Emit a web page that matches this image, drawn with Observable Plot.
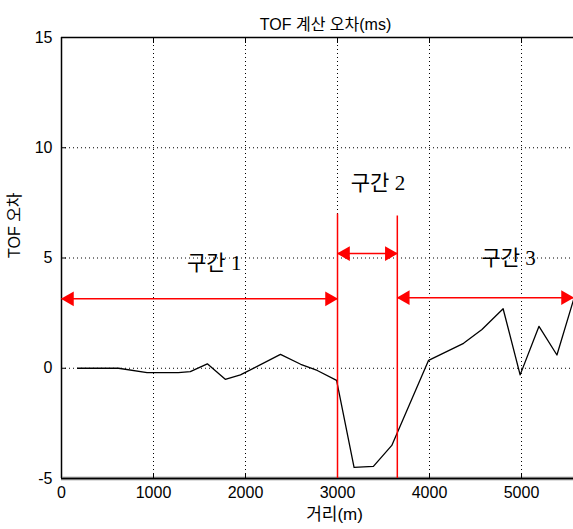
<!DOCTYPE html>
<html><head><meta charset="utf-8">
<script src="https://cdn.jsdelivr.net/npm/d3@7"></script>
<script src="https://cdn.jsdelivr.net/npm/@observablehq/plot@0.6"></script>
<style>body{margin:0;background:#fff} svg{display:block}</style>
</head><body><div id="chart"></div>
<script>
const distance = [175,620,930,1270,1400,1585,1780,1945,2380,2600,2780,2990,3180,3390,3590,3990,4370,4570,4800,4985,5190,5385,5565];
const tofError = [0,0,-0.2,-0.2,-0.15,0.2,-0.5,-0.3,0.63,0.18,-0.1,-0.55,-4.5,-4.45,-3.5,0.36,1.13,1.76,2.7,-0.3,1.9,0.6,3.1];
const xTicks = [0,1000,2000,3000,4000,5000];
const yTicks = [-5,0,5,10,15];
const boundaries = [3000,3650];
const boundaryTop = [7.0,6.9];
const segStart = [0,3000,3650];
const segEnd = [3000,3650,5565];
const segArrowY = [3.15,5.2,3.2];
const segLabels = ["구간 1","구간 2","구간 3"];
const segLabelX = [1660,3440,4860];
const segLabelY = [4.75,8.4,5.0];
const titleText = "TOF 계산 오차(ms)";
const xLabel = "거리(m)";
const yLabel = "TOF 오차";

const xMax = segEnd[2];
const yMin = yTicks[0], yMax = yTicks[yTicks.length-1];

const series = distance.map((d,i)=>({x:d, y:tofError[i]}));
const bounds = boundaries.map((d,i)=>({x:d, top:boundaryTop[i], bottom:yMin}));
const segs = segStart.map((s,i)=>({start:s, end:segEnd[i], y:segArrowY[i], label:segLabels[i], lx:segLabelX[i], ly:segLabelY[i]}));

const sans = "'Liberation Sans', Arial, 'Noto Sans CJK KR', sans-serif";
const serif = "'Liberation Serif', 'DejaVu Serif', 'Noto Sans CJK KR', serif";
const dotted = {stroke:"#000", strokeWidth:1, strokeDasharray:"1,3"};
const plain = d => String(d);

const chart = Plot.plot({
  width: 573, height: 529,
  marginLeft: 61, marginRight: 0, marginTop: 37, marginBottom: 51,
  style: {fontFamily: sans, fontSize: "15px", color: "#000", background: "#fff"},
  x: {domain: [0, xMax], label: null},
  y: {domain: [yMin, yMax], label: null},
  marks: [
    Plot.ruleX(xTicks.slice(1), dotted),
    Plot.ruleY(yTicks.slice(1, -1), dotted),
    Plot.ruleX([0], {stroke:"#000", strokeWidth:1.5}),
    Plot.ruleY([yMax], {stroke:"#000", strokeWidth:1.5}),
    Plot.ruleY([yMin], {stroke:"#777", strokeWidth:3.5}),
    Plot.ruleY([yMin], {stroke:"#000", strokeWidth:1}),
    Plot.axisX(xTicks, {anchor:"bottom", tickSize:0, tickPadding:8, fontSize:16, letterSpacing:"-0.8px", tickFormat:plain, label:null}),
    Plot.axisX(xTicks, {anchor:"bottom", tickSize:-5, tickFormat:()=>"", label:null}),
    Plot.axisX(xTicks, {anchor:"top", tickSize:-5, tickFormat:()=>"", label:null}),
    Plot.axisY(yTicks, {anchor:"left", tickSize:0, tickPadding:9, fontSize:16, letterSpacing:"-0.8px", tickFormat:plain, label:null}),
    Plot.axisY(yTicks, {anchor:"left", tickSize:-5, tickFormat:()=>"", label:null}),
    Plot.line(series, {x:"x", y:"y", stroke:"#000", strokeWidth:1.3}),
    Plot.ruleX(bounds, {x:"x", y1:"bottom", y2:"top", stroke:"red", strokeWidth:1.5}),
    Plot.link(segs, {x1:"start", x2:"end", y1:"y", y2:"y", stroke:"red", strokeWidth:1.5}),
    Plot.dot(segs, {x:"end", y:"y", symbol:"triangle", r:5.5, fill:"red", stroke:"none", rotate:90, dx:-8}),
    Plot.dot(segs, {x:"start", y:"y", symbol:"triangle", r:5.5, fill:"red", stroke:"none", rotate:-90, dx:8}),
    Plot.text(segs, {x:"lx", y:"ly", text:"label", fontSize:21, fontFamily:serif, fill:"#000"}),
    Plot.text([titleText], {text:d=>d, frameAnchor:"top", dx:8, dy:-19, fontSize:16, fill:"#000"}),
    Plot.text([yLabel], {text:d=>d, frameAnchor:"left", dx:-47, rotate:-90, fontSize:16, fill:"#000"}),
    Plot.text([xLabel], {text:d=>d, frameAnchor:"bottom", dx:17, dy:41, fontSize:17, fill:"#000"})
  ]
});
document.getElementById("chart").append(chart);
</script>
</body></html>
